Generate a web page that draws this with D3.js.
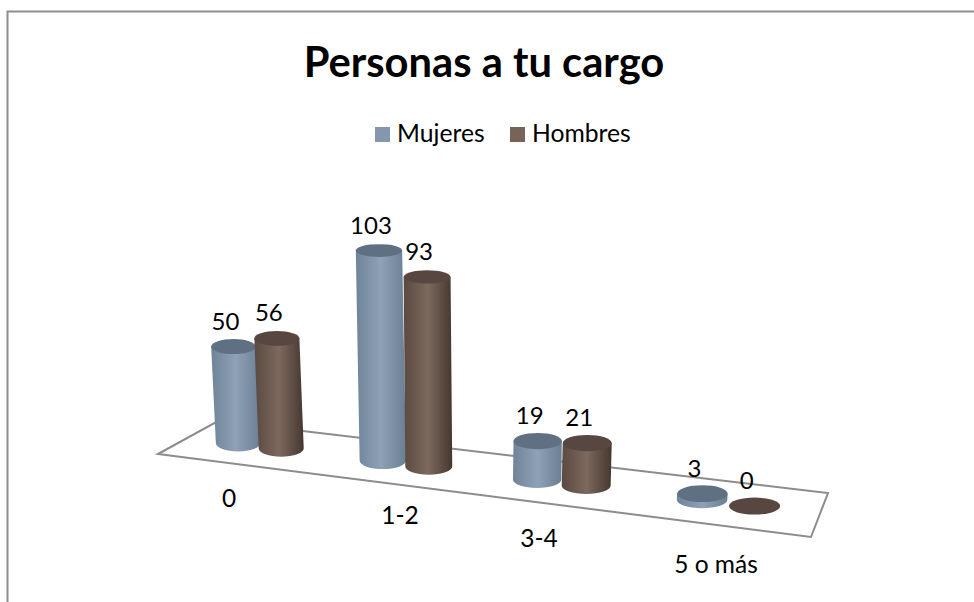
<!DOCTYPE html>
<html>
<head>
<meta charset="utf-8">
<style>
    html, body { margin: 0; padding: 0; background: #fff; }
    svg { display: block; }
    text { font-family: Lato, "Open Sans", sans-serif; fill: #000; }
</style>
</head>
<body>
<svg width="974" height="602"></svg>
<script src="https://d3js.org/d3.v7.min.js"></script>
<script>
const categories = ['0', '1-2', '3-4', '5 o más'];
const seriesNames = ['Mujeres', 'Hombres'];
const mujeres = [50, 103, 19, 3];
const hombres = [56, 93, 21, 0];

const width = 974, height = 602;
const svg = d3.select('svg');
const defs = svg.append('defs');

const seriesColors = d3.scaleOrdinal(seriesNames, [
    { swatch: '#8497ae', left: '#6f8399', light: '#8ea1b7', right: '#6a7e94', top: '#5f7083' },
    { swatch: '#776358', left: '#5a4a41', light: '#7d695d', right: '#453730', top: '#574740' }
]);

// floor corners in pixels: front-left, front-right, back-right, back-left
const floor = [[158, 454], [811, 537], [828, 493], [218, 421]];

// homography from the unit square to the floor
function makeProjection(c) {
    const [[x0, y0], [x1, y1], [x2, y2], [x3, y3]] = c;
    const dx1 = x1 - x2, dx2 = x3 - x2, sx = x0 - x1 + x2 - x3;
    const dy1 = y1 - y2, dy2 = y3 - y2, sy = y0 - y1 + y2 - y3;
    const det = dx1 * dy2 - dx2 * dy1;
    const g = (sx * dy2 - dx2 * sy) / det;
    const h = (dx1 * sy - sx * dy1) / det;
    const a = x1 - x0 + g * x1, b = x3 - x0 + h * x3;
    const d = y1 - y0 + g * y1, e = y3 - y0 + h * y3;
    return (u, v) => {
        const w = g * u + h * v + 1;
        return [(a * u + b * v + x0) / w, (d * u + e * v + y0) / w];
    };
}
const project = makeProjection(floor);

const xCat = d3.scaleBand(categories, [-0.006, 1.002]).paddingInner(0.3).paddingOuter(0.18);
const bw = xCat.bandwidth();
// the two cylinders of a group touch each other
const xSeries = d3.scaleBand(seriesNames, [bw * 0.065, bw * 0.935]);
const yHeight = d3.scaleLinear([0, 103], [0, 206]);
// perspective: things on the left come out a little shorter
const heightFactor = d3.scaleLinear([230, 380, 800], [0.96, 1.02, 1]);
const rx = d3.scaleLinear([200, 760], [22, 25.6]);
const ry = 8.5, depthV = 0.5;
const tilt = x => 0.00021 * (x - 470);

const rows = [mujeres, hombres].flatMap((vals, s) => vals.map((value, i) => {
    const name = seriesNames[s];
    const u = xCat(categories[i]) + xSeries(name) + xSeries.bandwidth() / 2;
    const [bx, by] = project(u, depthV);
    const h = yHeight(value) * heightFactor(bx);
    return { name, value, cat: i, bx, by, tx: bx + tilt(bx) * h, ty: by - h, r: rx(bx), topRy: ry - h * 0.01 };
}));

seriesNames.forEach((name, i) => {
    const c = seriesColors(name);
    const g = defs.append('linearGradient').attr('id', 'cyl' + i);
    g.append('stop').attr('offset', '0%').attr('stop-color', c.left);
    g.append('stop').attr('offset', '50%').attr('stop-color', c.light);
    g.append('stop').attr('offset', '100%').attr('stop-color', c.right);
});

// chart frame, only top and left show
svg.append('path')
    .attr('d', `M7.5,${height}V11.5H${width}`)
    .attr('fill', 'none').attr('stroke', '#8e8e8e').attr('stroke-width', 2);

svg.append('polygon')
    .attr('points', floor.join(' '))
    .attr('fill', '#fff').attr('stroke', '#8c8c8c').attr('stroke-width', 2);

const bars = svg.append('g').selectAll('g')
    .data(rows)
    .join('g');

bars.filter(d => d.value > 0).append('path')
    .attr('fill', d => `url(#cyl${seriesNames.indexOf(d.name)})`)
    .attr('d', d => `M${d.tx - d.r},${d.ty}L${d.bx - d.r},${d.by}` +
        `A${d.r},${ry} 0 0 0 ${d.bx + d.r},${d.by}` +
        `L${d.tx + d.r},${d.ty}Z`);

bars.append('ellipse')
    .attr('cx', d => d.tx).attr('cy', d => d.ty)
    .attr('rx', d => d.r).attr('ry', d => d.topRy)
    .attr('fill', d => seriesColors(d.name).top);

svg.append('g').selectAll('text')
    .data(rows)
    .join('text')
    .attr('x', d => d.tx - 8).attr('y', d => d.ty - 17)
    .attr('text-anchor', 'middle')
    .attr('font-size', 24)
    .text(d => d.value);

// category labels hang below the front edge, a bit to the left
const labelPos = [[229, 507], [400, 524], [539, 547], [716, 573]];
svg.append('g').selectAll('text')
    .data(categories)
    .join('text')
    .attr('x', (d, i) => labelPos[i][0]).attr('y', (d, i) => labelPos[i][1])
    .attr('text-anchor', 'middle')
    .attr('font-size', 24.5)
    .text(d => d);

svg.append('text')
    .attr('x', 484).attr('y', 77)
    .attr('text-anchor', 'middle')
    .attr('font-size', 41.7).attr('font-weight', 700)
    .text('Personas a tu cargo');

const legendX = [375, 510];
const legend = svg.append('g').selectAll('g')
    .data(seriesNames)
    .join('g')
    .attr('transform', (d, i) => `translate(${legendX[i]},127)`);
legend.append('rect')
    .attr('width', 15).attr('height', 15)
    .attr('fill', d => seriesColors(d).swatch);
legend.append('text')
    .attr('x', 22).attr('y', 15)
    .attr('font-size', 24.7)
    .text(d => d);
</script>
</body>
</html>
